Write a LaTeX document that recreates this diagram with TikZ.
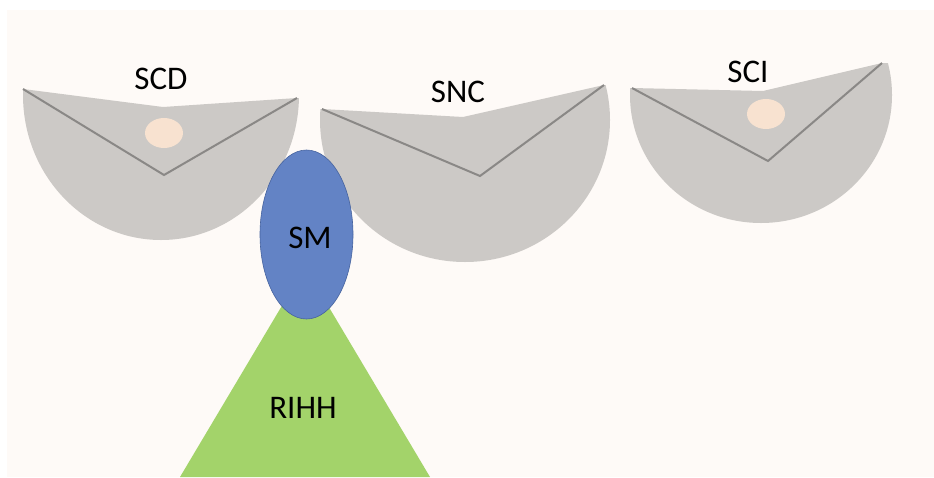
\documentclass[tikz,border=0pt]{standalone}
\usepackage{fontspec}
\setmainfont{Carlito}
\usetikzlibrary{shapes.geometric}
\definecolor{bgc}{HTML}{FEFAF7}
\definecolor{grayfill}{HTML}{CCC9C6}
\definecolor{vline}{HTML}{8A8886}
\definecolor{dotc}{HTML}{F8E2D0}
\definecolor{smblue}{HTML}{6383C5}
\definecolor{smedge}{HTML}{46639F}
\definecolor{rihhgreen}{HTML}{A3D36A}
\tikzset{
  lbl/.style={font=\fontsize{33}{38}\selectfont, text=black, inner sep=0pt},
  vstroke/.style={draw=vline, line width=2pt, line join=miter},
  dot/.style={fill=dotc},
}
\begin{document}
\begin{tikzpicture}[x=1pt,y=-1pt]
\useasboundingbox (0,0) rectangle (934,477);
\fill[white] (0,0) rectangle (934,477);
\fill[bgc] (7,10) rectangle (934,477);
% SCD
\begin{scope}
\clip (23,89) -- (163,107) -- (297,98) -- (320,98) -- (320,300) -- (0,300) -- (0,89) -- cycle;
\fill[grayfill] (161,95) ellipse [x radius=138, y radius=145];
\end{scope}
\fill[dot] (164,133) ellipse [x radius=19, y radius=15];
\draw[vstroke] (23,89) -- (164,175) -- (297,98);
% SNC
\begin{scope}
\clip (322,109) -- (463,117) -- (604,85) -- (640,85) -- (640,300) -- (300,300) -- (300,109) -- cycle;
\fill[grayfill] (465,120) ellipse [x radius=145, y radius=142];
\end{scope}
\draw[vstroke] (322,109) -- (480,176) -- (604,85);
% SCI
\begin{scope}
\clip (632,88) -- (763,91) -- (882,63) -- (934,63) -- (934,300) -- (610,300) -- (610,88) -- cycle;
\fill[grayfill] (761,95) ellipse [x radius=131, y radius=128];
\end{scope}
\fill[dot] (766,114) ellipse [x radius=19, y radius=15];
\draw[vstroke] (632,88) -- (768,161) -- (882,63);
% RIHH triangle
\coordinate (apex) at (305,267);
\fill[rihhgreen] (apex) -- (430,477) -- (180,477) -- cycle;
% SM ellipse
\node[ellipse, fill=smblue, draw=smedge, line width=0.6pt, minimum width=93pt, minimum height=169pt, inner sep=0pt] (sm) at (306.5,234.5) {};
% labels
\node[lbl] (scd) at (161,79) {SCD};
\node[lbl] (snc) at (458,92) {SNC};
\node[lbl] (sci) at (748,72) {SCI};
\node[lbl] (smlabel) at (310,238) {SM};
\node[lbl] (rihh) at (303,408) {RIHH};
\end{tikzpicture}
\end{document}
